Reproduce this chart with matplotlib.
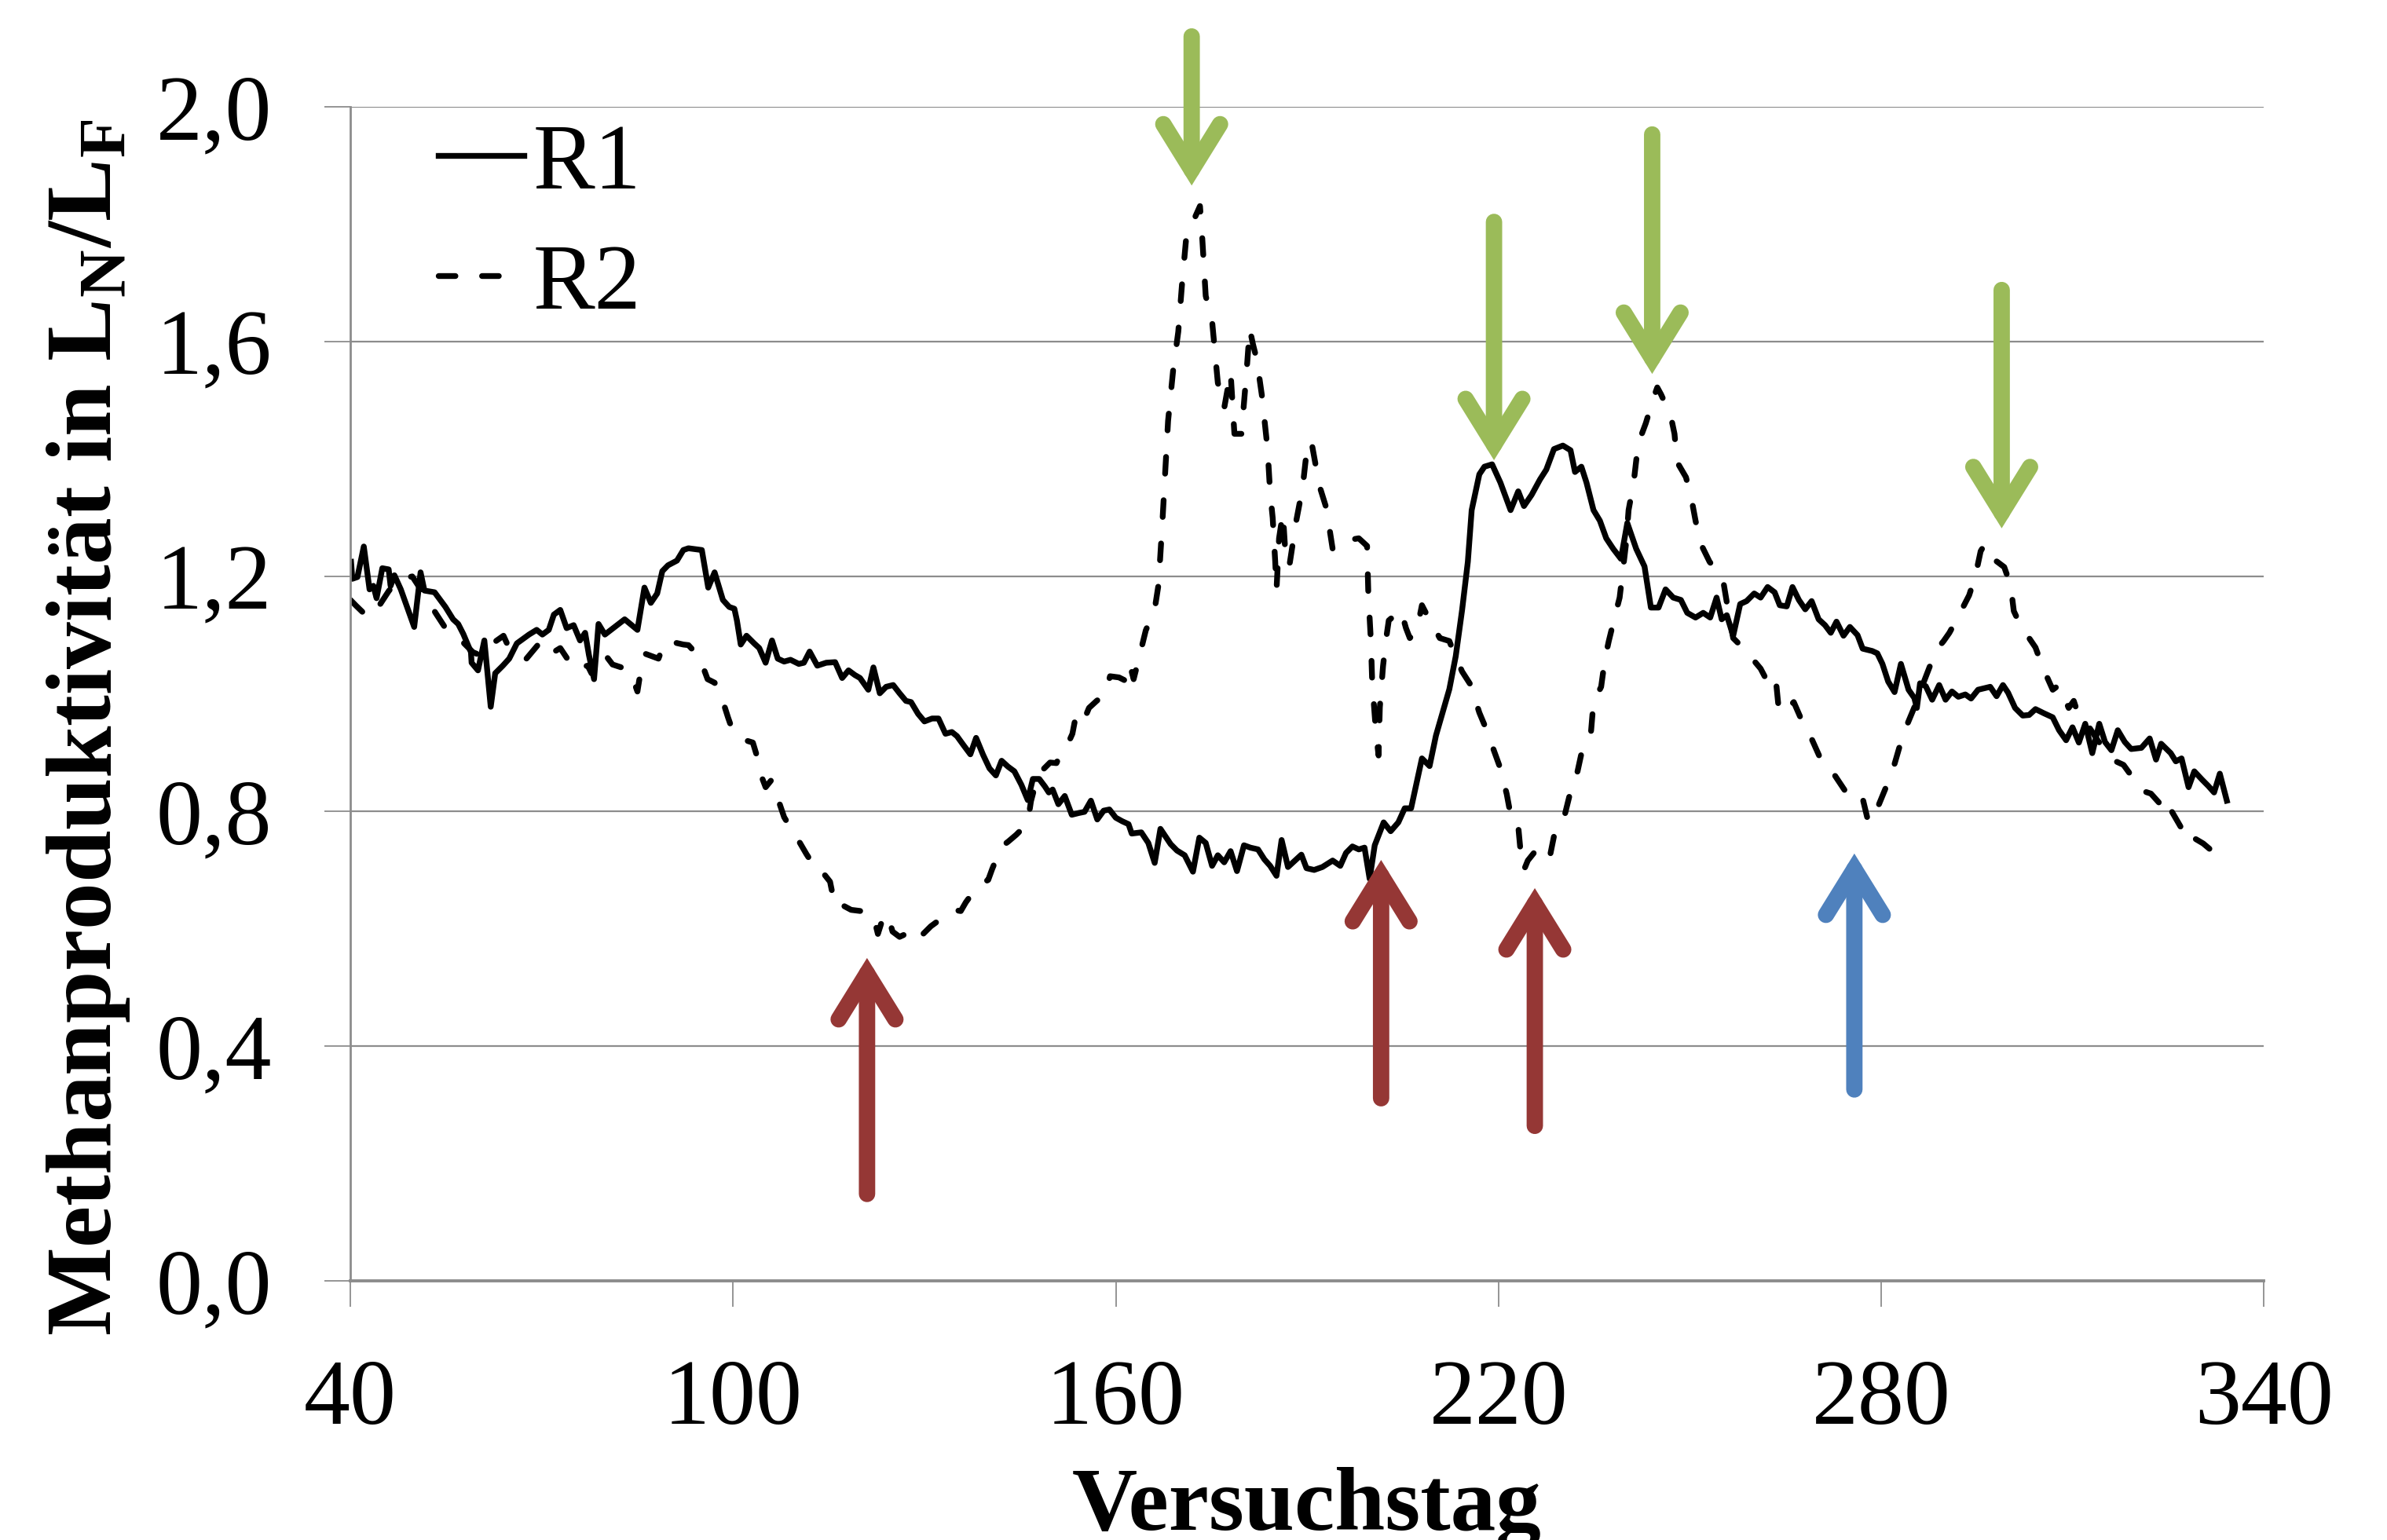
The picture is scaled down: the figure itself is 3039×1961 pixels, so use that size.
import numpy as np
import matplotlib
matplotlib.use('Agg')
import matplotlib.pyplot as plt

plt.rcParams['font.family'] = ['Liberation Serif', 'DejaVu Serif']
plt.rcParams['mathtext.fontset'] = 'custom'
plt.rcParams['mathtext.rm'] = 'Liberation Serif:bold'

# R1 (solid)
r1_tag = [40.1, 40.3, 41.1, 42.1, 43.0, 43.6, 44.1, 45.0, 46.0, 46.3, 46.9, 47.9, 50.0, 51.0, 51.6,
          53.2, 54.9, 56.1, 56.9, 57.7, 58.9, 59.0, 60.0, 61.0, 62.0, 62.7, 63.9, 64.9, 66.1, 68.0,
          69.2, 70.1, 71.1, 71.9, 72.9, 73.9, 75.0, 76.0, 76.8, 77.4, 78.2, 78.9, 79.9, 83.0, 85.0,
          86.1, 87.1, 88.1, 88.9, 89.8, 91.2, 92.2, 93.0, 95.1, 96.1, 97.1, 98.4, 99.4, 100.2, 100.6,
          101.2, 102.1, 103.3, 104.1, 105.1, 106.1, 107.0, 108.0, 109.0, 110.3, 111.1, 112.0, 113.2,
          114.6, 116.0, 117.1, 118.1, 119.1, 119.9, 121.2, 122.0, 123.0, 124.0, 125.1, 126.1, 127.1,
          127.9, 129.0, 130.0, 131.2, 132.2, 133.3, 134.3, 135.1, 136.1, 137.2, 138.1, 139.2, 140.2,
          141.2, 142.1, 143.1, 144.1, 145.2, 146.2, 147.0, 148.0, 148.9, 149.5, 150.1, 151.0, 152.0,
          153.1, 154.2, 155.1, 156.1, 157.1, 158.1, 159.0, 160.0, 161.0, 162.0, 162.5, 164.0, 165.1,
          166.1, 167.0, 168.6, 169.6, 170.8, 172.1, 173.1, 174.1, 175.1, 176.0, 177.0, 178.0, 179.0,
          180.1, 181.1, 182.3, 183.3, 184.2, 185.2, 186.0, 187.0, 188.1, 189.1, 189.9, 191.1, 192.4,
          194.0, 195.2, 196.1, 197.1, 198.1, 199.0, 199.8, 200.6, 202.0, 203.1, 204.3, 205.3, 206.3,
          208.0, 209.2, 210.2, 212.3, 213.3, 214.3, 215.2, 215.8, 217.0, 217.8, 219.0, 220.3, 221.9,
          223.1, 224.0, 225.2, 226.5, 227.5, 228.7, 230.1, 231.3, 232.0, 233.0, 233.8, 234.9, 235.9,
          236.9, 238.0, 239.2, 240.2, 241.6, 242.9, 243.9, 245.1, 246.2, 247.4, 248.6, 249.6, 250.9,
          252.1, 253.2, 254.2, 255.0, 255.8, 256.8, 257.9, 258.9, 260.1, 261.1, 262.2, 263.3, 264.1,
          265.2, 266.1, 267.1, 268.1, 269.1, 270.2, 271.2, 272.1, 273.0, 274.1, 275.1, 276.3, 277.1,
          278.6, 279.4, 280.2, 281.1, 282.1, 283.1, 284.3, 285.2, 285.6, 286.1, 287.0, 288.0, 289.1,
          290.1, 291.1, 292.1, 293.2, 294.1, 295.2, 297.1, 298.1, 299.1, 299.9, 301.0, 302.2, 303.2,
          304.2, 305.5, 306.9, 307.9, 309.0, 310.0, 311.0, 312.0, 313.1, 314.2, 315.1, 316.1, 317.1,
          318.2, 319.2, 320.8, 322.1, 323.1, 323.9, 325.4, 326.2, 327.1, 328.2, 329.1, 330.3, 331.3,
          332.2, 333.1, 334.2]
r1_wert = [1.225, 1.196, 1.199, 1.251, 1.178, 1.184, 1.163, 1.214, 1.212, 1.184, 1.202, 1.178, 1.114,
           1.207, 1.176, 1.173, 1.148, 1.127, 1.119, 1.102, 1.071, 1.053, 1.040, 1.091, 0.978, 1.035,
           1.048, 1.060, 1.086, 1.101, 1.109, 1.101, 1.109, 1.135, 1.143, 1.112, 1.117, 1.091, 1.104,
           1.066, 1.025, 1.119, 1.101, 1.127, 1.109, 1.181, 1.155, 1.171, 1.209, 1.219, 1.227, 1.245,
           1.248, 1.245, 1.181, 1.207, 1.160, 1.148, 1.145, 1.125, 1.084, 1.099, 1.086, 1.078, 1.053,
           1.091, 1.060, 1.055, 1.058, 1.051, 1.053, 1.072, 1.048, 1.053, 1.054, 1.027, 1.040, 1.032,
           1.027, 1.007, 1.045, 1.001, 1.012, 1.015, 1.001, 0.988, 0.986, 0.966, 0.953, 0.958, 0.958,
           0.932, 0.935, 0.928, 0.913, 0.897, 0.925, 0.896, 0.873, 0.861, 0.886, 0.876, 0.868, 0.845,
           0.819, 0.855, 0.855, 0.842, 0.832, 0.837, 0.812, 0.826, 0.794, 0.797, 0.799, 0.818, 0.786,
           0.801, 0.803, 0.789, 0.783, 0.778, 0.762, 0.764, 0.746, 0.712, 0.770, 0.744, 0.733, 0.725,
           0.697, 0.755, 0.746, 0.707, 0.725, 0.713, 0.732, 0.698, 0.742, 0.738, 0.735, 0.718, 0.707,
           0.690, 0.751, 0.705, 0.716, 0.726, 0.703, 0.700, 0.705, 0.716, 0.707, 0.729, 0.740, 0.735,
           0.738, 0.685, 0.742, 0.781, 0.766, 0.781, 0.805, 0.805, 0.890, 0.877, 0.929, 1.008, 1.064,
           1.143, 1.225, 1.313, 1.374, 1.387, 1.391, 1.360, 1.313, 1.345, 1.320, 1.339, 1.365, 1.382,
           1.417, 1.423, 1.415, 1.378, 1.387, 1.360, 1.313, 1.295, 1.265, 1.247, 1.230, 1.291, 1.247,
           1.217, 1.147, 1.147, 1.178, 1.164, 1.160, 1.138, 1.130, 1.138, 1.130, 1.164, 1.127, 1.134,
           1.099, 1.153, 1.158, 1.171, 1.164, 1.182, 1.173, 1.151, 1.149, 1.182, 1.160, 1.144, 1.158,
           1.127, 1.117, 1.104, 1.123, 1.099, 1.114, 1.100, 1.077, 1.073, 1.069, 1.051, 1.021, 1.003,
           1.051, 1.007, 0.993, 0.976, 1.018, 1.013, 0.990, 1.015, 0.990, 1.004, 0.995, 0.999, 0.992,
           1.007, 1.012, 0.996, 1.015, 1.002, 0.976, 0.963, 0.964, 0.974, 0.967, 0.960, 0.938, 0.921,
           0.943, 0.917, 0.949, 0.899, 0.949, 0.918, 0.904, 0.938, 0.918, 0.906, 0.908, 0.924, 0.888,
           0.915, 0.899, 0.885, 0.890, 0.841, 0.868, 0.854, 0.843, 0.832, 0.864, 0.818]

# R2 (dashed)
r2_tag = [40.0, 40.9, 42.8, 44.5, 46.0, 47.5, 49.7, 51.5, 53.4, 54.9, 57.0, 59.2, 60.5, 61.5, 62.7,
          64.0, 65.0, 66.5, 67.6, 69.6, 71.1, 72.9, 74.0, 75.0, 77.2, 77.8, 79.5, 81.1, 82.5, 84.0,
          85.0, 85.6, 86.3, 88.3, 89.3, 91.0, 92.2, 93.0, 94.7, 96.0, 97.1, 98.0, 99.2, 100.0, 101.0,
          101.9, 103.1, 103.6, 104.5, 105.1, 106.0, 107.0, 108.0, 109.0, 110.0, 111.5, 112.5, 113.6,
          114.4, 115.2, 116.0, 117.3, 118.5, 120.0, 121.0, 122.0, 122.7, 123.2, 124.2, 125.0, 126.1,
          127.1, 128.1, 129.0, 129.8, 131.0, 132.0, 133.5, 134.5, 135.7, 136.5, 137.5, 138.8, 140.0,
          140.6, 141.5, 142.1, 143.1, 144.4, 145.5, 146.2, 146.7, 147.5, 148.5, 149.7, 150.7, 151.5,
          152.5, 153.2, 153.8, 155.0, 155.8, 157.0, 158.3, 159.1, 160.5, 161.6, 162.2, 162.8, 164.0,
          164.7, 166.1, 166.7, 167.3, 168.2, 169.0, 169.8, 170.4, 171.0, 172.3, 173.2, 173.5, 174.1,
          175.1, 176.0, 177.0, 178.0, 178.6, 179.7, 180.5, 181.0, 181.5, 182.1, 182.9, 183.8, 184.2,
          184.6, 185.0, 185.2, 185.6, 186.2, 186.6, 187.2, 188.3, 189.3, 190.1, 190.8, 191.6, 192.0,
          193.0, 194.0, 195.0, 196.5, 198.1, 199.4, 199.6, 200.0, 200.2, 200.8, 201.2, 201.4, 201.9,
          202.4, 202.8, 204.7, 205.5, 206.1, 207.2, 208.0, 209.0, 210.8, 212.3, 212.9, 214.3, 215.6,
          217.0, 218.0, 219.3, 220.3, 221.3, 221.9, 223.0, 223.6, 224.0, 224.6, 226.0, 226.9, 228.1,
          228.9, 230.4, 231.4, 232.4, 233.2, 234.5, 234.9, 236.1, 236.7, 237.3, 238.2, 239.0, 240.0,
          240.4, 241.2, 241.9, 243.1, 244.3, 244.9, 245.5, 247.0, 247.6, 248.0, 249.4, 250.3, 250.9,
          251.7, 253.1, 254.2, 255.2, 256.0, 256.8, 258.0, 259.1, 261.1, 262.4, 263.3, 263.6, 264.0,
          265.2, 266.3, 267.7, 269.2, 270.8, 271.8, 272.8, 274.7, 276.1, 277.1, 278.0, 279.4, 280.8,
          281.9, 283.1, 283.9, 285.2, 286.5, 287.6, 288.8, 289.8, 290.7, 292.1, 293.8, 294.8, 295.6,
          296.2, 296.9, 298.2, 299.3, 300.3, 300.8, 302.0, 303.2, 304.2, 305.3, 306.9, 307.9, 308.4,
          309.4, 310.2, 310.9, 312.5, 314.0, 315.5, 316.8, 318.0, 320.0, 320.9, 322.3, 324.2, 325.0,
          325.6, 327.2, 328.1, 329.1, 330.5, 331.7, 332.8, 334.2]
r2_wert = [1.160, 1.150, 1.130, 1.150, 1.175, 1.195, 1.200, 1.170, 1.137, 1.112, 1.095, 1.071, 1.065,
           1.082, 1.089, 1.099, 1.075, 1.065, 1.060, 1.086, 1.066, 1.078, 1.060, 1.042, 1.048, 1.035,
           1.073, 1.050, 1.045, 1.035, 1.004, 1.045, 1.068, 1.060, 1.089, 1.087, 1.084, 1.083, 1.063,
           1.025, 1.019, 1.001, 0.960, 0.935, 0.925, 0.921, 0.917, 0.899, 0.858, 0.841, 0.853, 0.822,
           0.790, 0.772, 0.755, 0.727, 0.710, 0.691, 0.691, 0.680, 0.637, 0.639, 0.632, 0.630, 0.625,
           0.622, 0.591, 0.608, 0.625, 0.595, 0.586, 0.591, 0.604, 0.600, 0.591, 0.604, 0.612, 0.625,
           0.632, 0.630, 0.645, 0.660, 0.676, 0.683, 0.701, 0.725, 0.740, 0.748, 0.760, 0.772, 0.781,
           0.817, 0.850, 0.870, 0.883, 0.882, 0.901, 0.915, 0.932, 0.966, 0.955, 0.976, 0.988, 0.999,
           1.030, 1.028, 1.022, 1.050, 1.025, 1.077, 1.108, 1.144, 1.186, 1.291, 1.465, 1.552, 1.617,
           1.700, 1.772, 1.809, 1.831, 1.787, 1.678, 1.635, 1.530, 1.487, 1.548, 1.443, 1.443, 1.548,
           1.622, 1.596, 1.570, 1.509, 1.417, 1.343, 1.300, 1.225, 1.177, 1.265, 1.308, 1.239, 1.217,
           1.295, 1.352, 1.430, 1.422, 1.374, 1.352, 1.317, 1.247, 1.260, 1.262, 1.265, 1.252, 1.169,
           1.090, 1.021, 0.934, 0.895, 0.977, 1.047, 1.095, 1.125, 1.143, 1.112, 1.095, 1.108, 1.151,
           1.130, 1.095, 1.090, 1.073, 1.038, 1.016, 0.968, 0.942, 0.903, 0.873, 0.829, 0.794, 0.786,
           0.716, 0.700, 0.716, 0.735, 0.742, 0.725, 0.768, 0.794, 0.838, 0.868, 0.908, 0.934, 0.986,
           1.012, 1.060, 1.090, 1.130, 1.164, 1.256, 1.313, 1.360, 1.426, 1.461, 1.504, 1.522, 1.510,
           1.474, 1.443, 1.395, 1.369, 1.330, 1.295, 1.256, 1.225, 1.210, 1.195, 1.143, 1.095, 1.082,
           1.069, 1.043, 1.016, 1.027, 1.012, 0.968, 0.975, 0.986, 0.951, 0.921, 0.882, 0.870, 0.860,
           0.829, 0.834, 0.822, 0.781, 0.805, 0.842, 0.873, 0.918, 0.943, 0.977, 1.015, 1.046, 1.077,
           1.090, 1.104, 1.132, 1.168, 1.202, 1.243, 1.254, 1.234, 1.225, 1.216, 1.185, 1.141, 1.113,
           1.095, 1.079, 1.046, 1.007, 1.015, 1.001, 0.976, 0.988, 0.965, 0.945, 0.920, 0.899, 0.885,
           0.879, 0.849, 0.835, 0.830, 0.807, 0.818, 0.799, 0.769, 0.776, 0.754, 0.745, 0.734, 0.729,
           0.717]

# Pfeile: Versuchstag, Spitze, Ende
gruen_tag = [171.9, 219.3, 244.1, 298.9]
gruen_spitze = [1.866, 1.398, 1.545, 1.282]
gruen_ende = [2.134, 1.818, 1.967, 1.702]
rot_tag = [121.0, 201.6, 225.7]
rot_spitze = [0.550, 0.717, 0.669]
rot_ende = [0.134, 0.297, 0.250]
blau_tag = [275.8]
blau_spitze = [0.728]
blau_ende = [0.312]

x_ticks = [40, 100, 160, 220, 280, 340]
y_ticks = [0.0, 0.4, 0.8, 1.2, 1.6, 2.0]
y_ticklabels = ['0,0', '0,4', '0,8', '1,2', '1,6', '2,0']

fs = 85
grau = '#8c8c8c'

fig = plt.figure(figsize=(30.39, 19.61), dpi=100)
ax = fig.add_axes([0.1468, 0.1683, 0.8016, 0.7623])

ax.plot(r1_tag, r1_wert, color='black', lw=5.3, solid_joinstyle='round', label='R1')
ax.plot(r2_tag, r2_wert, color='black', lw=5.3, dashes=(2.9, 4.6), dash_capstyle='round',
        label='R2')

ax.set_xlim(40, 340)
ax.set_ylim(0, 2.0)
ax.set_xticks(x_ticks)
ax.set_yticks(y_ticks)
ax.set_yticklabels(y_ticklabels)
ax.yaxis.grid(True, color=grau, lw=1.6)
ax.set_axisbelow(True)
for s in ['top', 'right']:
    ax.spines[s].set_visible(False)
ax.spines['left'].set_color(grau)
ax.spines['left'].set_linewidth(2.0)
ax.spines['bottom'].set_color(grau)
ax.spines['bottom'].set_linewidth(2.8)
ax.tick_params(axis='both', direction='out', length=24, width=1.3, color=grau,
               labelsize=fs, pad=48)

ax.set_xlabel('Versuchstag', fontsize=83, fontweight='bold')
ax.xaxis.set_label_coords(0.5, -0.212)
ax.xaxis.label.set_va('baseline')
ax.set_ylabel(r'Methanproduktivität in L$_\mathregular{N}$/L$_\mathregular{F}$',
              fontsize=86, fontweight='bold')
ax.yaxis.set_label_coords(-0.114, 0.471)

ax.legend(loc='upper left', bbox_to_anchor=(0.046, 0.986), frameon=False, fontsize=fs,
          handlelength=0.92, handletextpad=0.1, labelspacing=0.385, borderpad=0,
          borderaxespad=0)

kappe = 0.014
def pfeile(tage, spitzen, enden, farbe):
    for t, sp, en in zip(tage, spitzen, enden):
        richtung = 1 if en > sp else -1
        ax.annotate('', xy=(t, sp), xytext=(t, en - richtung * kappe),
                    arrowprops=dict(arrowstyle='->,head_length=4.2,head_width=2.6',
                                    mutation_scale=10, lw=15, color=farbe,
                                    shrinkA=0, shrinkB=0, capstyle='round',
                                    joinstyle='miter'),
                    annotation_clip=False)

pfeile(gruen_tag, gruen_spitze, gruen_ende, '#9BBB59')
pfeile(rot_tag, rot_spitze, rot_ende, '#953735')
pfeile(blau_tag, blau_spitze, blau_ende, '#4F81BD')

fig.savefig('out.png', dpi=100)
